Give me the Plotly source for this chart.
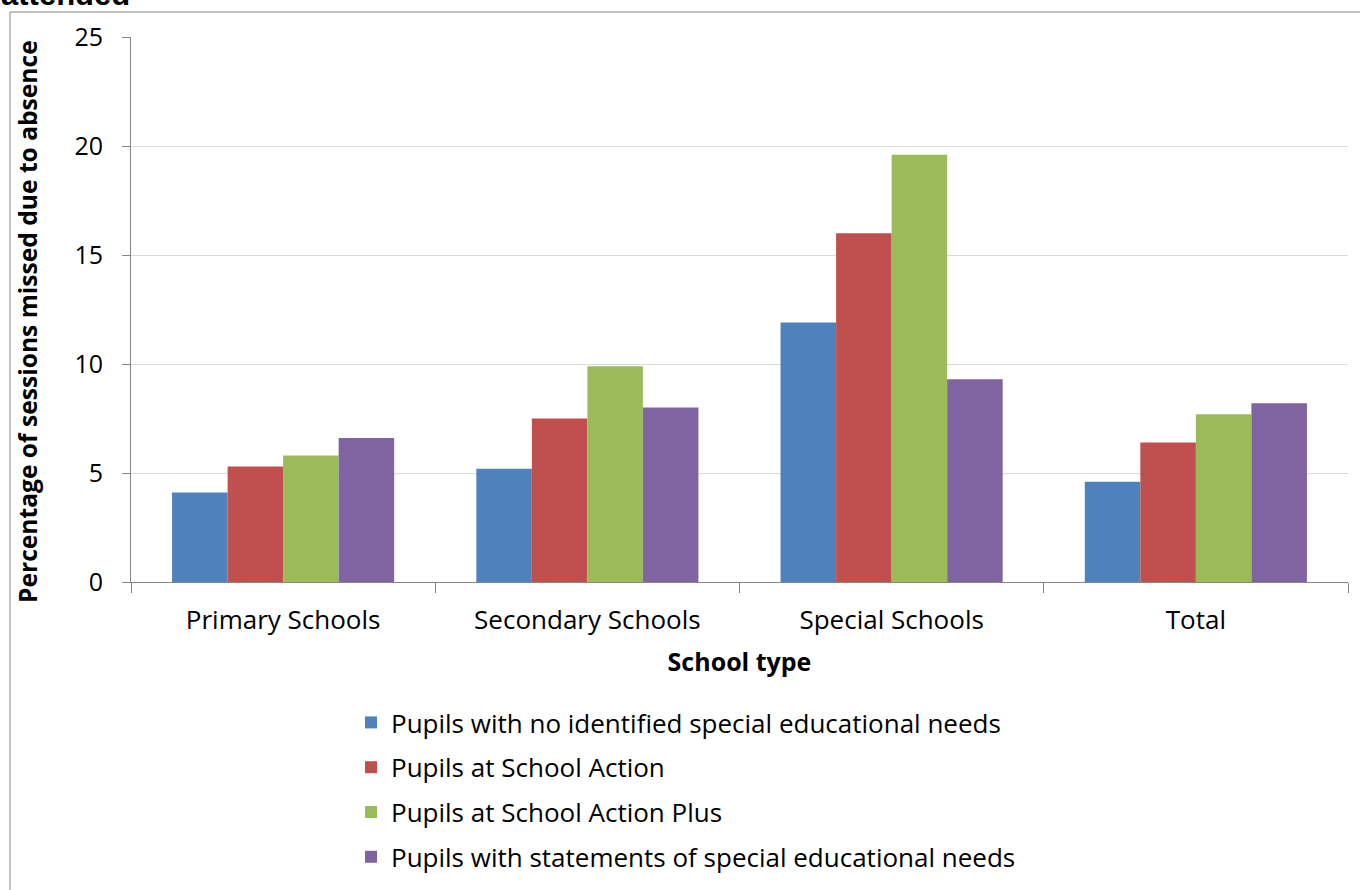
import plotly.graph_objects as go

categories = ["Primary Schools", "Secondary Schools", "Special Schools", "Total"]
series_names = [
    "Pupils with no identified special educational needs",
    "Pupils at School Action",
    "Pupils at School Action Plus",
    "Pupils with statements of special educational needs",
]
no_sen = [4.1, 5.2, 11.9, 4.6]
school_action = [5.3, 7.5, 16.0, 6.4]
school_action_plus = [5.8, 9.9, 19.6, 7.7]
statements = [6.6, 8.0, 9.3, 8.2]
y_ticks = [0, 5, 10, 15, 20, 25]

colors = ["#4F81BD", "#C0504D", "#9BBB59", "#8064A2"]
FONT = "Open Sans"

W, H = 1360, 890
PL, PR, PT, PB = 131, 1348, 37, 582  # plot area in pixels
ML, MT, MR, MB = PL, PT, W - PR, H - PB

fig = go.Figure()
for i, (name, vals) in enumerate(zip(series_names, [no_sen, school_action, school_action_plus, statements])):
    fig.add_trace(go.Bar(x=categories, y=vals, name=name, marker_color=colors[i],
                         marker_line_width=0, legendgroup=str(i)))

def px_x(p):
    return (p - PL) / (PR - PL)
def px_y(p):
    return (PB - p) / (PB - PT)

fig.update_layout(
    width=W, height=H,
    margin=dict(l=ML, r=MR, t=MT, b=MB, autoexpand=False),
    paper_bgcolor="white", plot_bgcolor="white",
    barmode="group", bargap=0.27, bargroupgap=0,
    font=dict(family=FONT, size=26, color="#000000"),
    showlegend=True,
    legend=dict(orientation="v", x=px_x(351), y=px_y(699), xanchor="left", yanchor="top",
                font=dict(family=FONT, size=26, color="#000000"),
                tracegroupgap=8, itemwidth=30, traceorder="grouped"),
    xaxis=dict(type="category", showline=True, linecolor="#868686", linewidth=1,
               ticks="outside", tickson="boundaries", ticklen=10, tickcolor="#868686",
               showgrid=False, tickfont=dict(family=FONT, size=26), automargin=False,
               ticklabelstandoff=15,
               title=dict(text="<b>School type</b>", font=dict(family=FONT, size=25), standoff=17)),
    yaxis=dict(range=[0, 25], tickvals=y_ticks, showgrid=True, gridcolor="#D9D9D9", gridwidth=1,
               showline=True, linecolor="#868686", linewidth=1, ticks="outside", ticklen=8,
               tickcolor="#868686", zeroline=False, tickfont=dict(family=FONT, size=25),
               ticklabelstandoff=14, automargin=False),
)

# y-axis title
fig.add_annotation(text="<b>Percentage of sessions missed due to absence</b>",
                   xref="paper", yref="paper", x=px_x(27), y=px_y(322),
                   xanchor="center", yanchor="middle", textangle=-90, showarrow=False,
                   font=dict(family=FONT, size=24.6, color="#000000"))

# outer chart border (right and bottom edges fall outside the page)
border = dict(color="#868686", width=1)
fig.add_shape(type="line", xref="paper", yref="paper",
              x0=px_x(10), x1=px_x(10), y0=px_y(12), y1=px_y(920), line=border, layer="below")
fig.add_shape(type="line", xref="paper", yref="paper",
              x0=px_x(10), x1=px_x(1380), y0=px_y(12), y1=px_y(12), line=border, layer="below")

# clipped title remnant (bottom of the chart title, cut by the page edge as in the reference)
fig.add_annotation(text="<b>attended</b>", xref="paper", yref="paper",
                   x=px_x(65), y=px_y(14), xanchor="center", yanchor="bottom",
                   showarrow=False, font=dict(family="Liberation Sans", size=31, color="#000000"))

fig.write_html("out.html", config={"displayModeBar": False},
               post_script="document.body.style.margin='0';document.body.style.overflow='hidden';")
